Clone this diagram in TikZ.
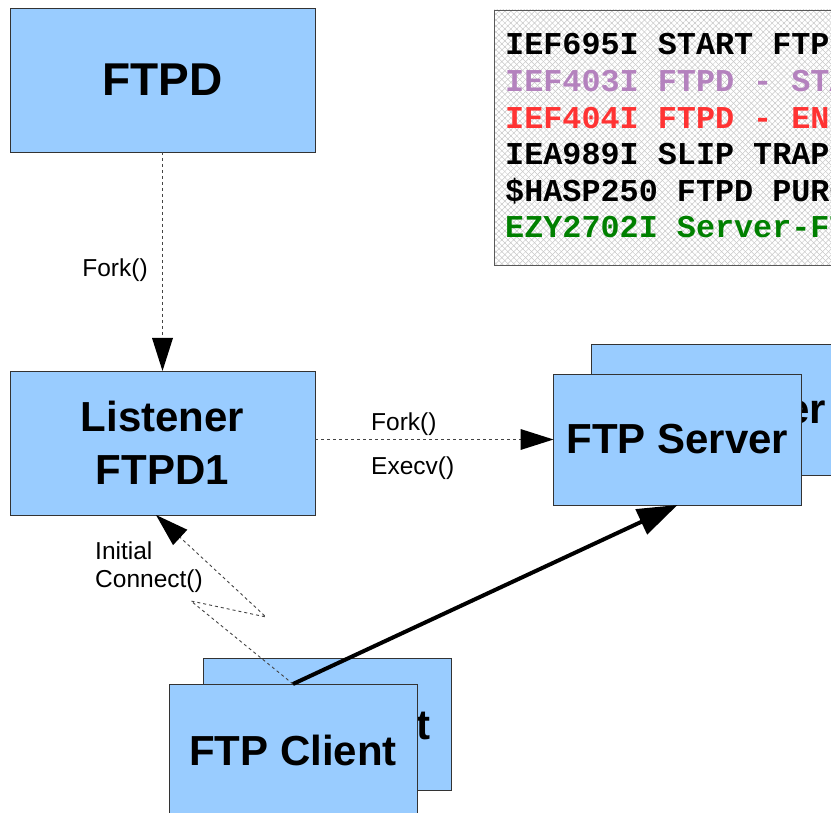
\documentclass[tikz,border=0pt]{standalone}
\usepackage{fontspec}
\setmainfont{Liberation Sans}
\newfontfamily\logfont{Liberation Mono}
\usetikzlibrary{arrows.meta,patterns.meta,calc}
\definecolor{boxblue}{HTML}{99CCFF}
\definecolor{boxline}{HTML}{333333}
\definecolor{hatch}{HTML}{C8C8C8}
\definecolor{logpurple}{HTML}{B482BE}
\definecolor{logred}{HTML}{FF3333}
\definecolor{loggreen}{HTML}{008000}
\definecolor{dashgray}{HTML}{444444}
\tikzset{
  box/.style={draw=boxline, fill=boxblue, line width=0.9pt, inner sep=0pt, outer sep=0pt,
    minimum width=248pt, minimum height=131pt, align=center,
    font=\fontsize{42}{53}\selectfont\bfseries},
  bigbox/.style={box, minimum width=305pt, minimum height=144pt},
  lbl/.style={font=\fontsize{24.5}{28}\selectfont, inner sep=0pt, align=left},
  logline/.style={anchor=base west, inner sep=0pt, font=\fontsize{31.8}{36}\selectfont\logfont\bfseries},
  dashconn/.style={draw=dashgray, line width=0.9pt, dash pattern=on 3pt off 3pt,
    -{Triangle[length=33pt,width=21pt,fill=black,line width=0pt]}},
  thickconn/.style={draw=black, line width=4pt, -{Triangle[length=40pt,width=27pt]}}
}
\begin{document}
\begin{tikzpicture}[x=1pt,y=-1pt]
\clip (0,0) rectangle (831,813);
\fill[white] (0,0) rectangle (831,813);
% log panel
\fill[white] (494,10) rectangle (850,265);
\fill[pattern={Lines[angle=45,distance=4.2pt,line width=0.5pt]}, pattern color=hatch] (494,10) rectangle (850,265);
\fill[pattern={Lines[angle=-45,distance=4.2pt,line width=0.5pt]}, pattern color=hatch] (494,10) rectangle (850,265);
\draw[draw=gray!70!black, line width=0.9pt] (494,10) rectangle (850,265);
\node[logline, text=black] (l1) at (505,55) {IEF695I START FTPD};
\node[logline, text=logpurple] (l2) at (505,91.6) {IEF403I FTPD - STA};
\node[logline, text=logred] (l3) at (505,128.2) {IEF404I FTPD - END};
\node[logline, text=black] (l4) at (505,164.8) {IEA989I SLIP TRAP};
\node[logline, text=black] (l5) at (505,201.4) {\$HASP250 FTPD PURG};
\node[logline, text=loggreen] (l6) at (505,238) {EZY2702I Server-FT};
% boxes
\node[bigbox, font=\fontsize{46}{53}\selectfont\bfseries] (ftpd) at (162.5,80) {FTPD};
\node[bigbox] (listener) at (162.5,443) {Listener\\FTPD1};
\node[box] (serverback) at (715,409.5) {FTP Server};
\node[box] (server) at (677.5,439.5) {FTP Server};
\node[box, minimum height=132pt] (clientback) at (327,724) {FTP Client};
\node[box, minimum height=132pt] (client) at (293,750) {FTP Client};
% connectors
\draw[dashconn] (ftpd.south) -- (listener.north);
\node[lbl] (forkA) at (115,270) {Fork()};
\draw[dashconn] (listener.east |- server.west) -- (server.west);
\node[lbl, anchor=west] (forkB) at (371,424) {Fork()};
\node[lbl, anchor=west] (execv) at (371,468) {Execv()};
\coordinate (z1) at (191,601);
\coordinate (z2) at (266,617);
\draw[dashconn] (client.north) -- (z1) -- (z2) -- ([xshift=-6.5pt]listener.south);
\node[lbl, anchor=west] (initc) at (95,567) {Initial\\Connect()};
\draw[thickconn] (client.north) -- (server.south);
\end{tikzpicture}
\end{document}
